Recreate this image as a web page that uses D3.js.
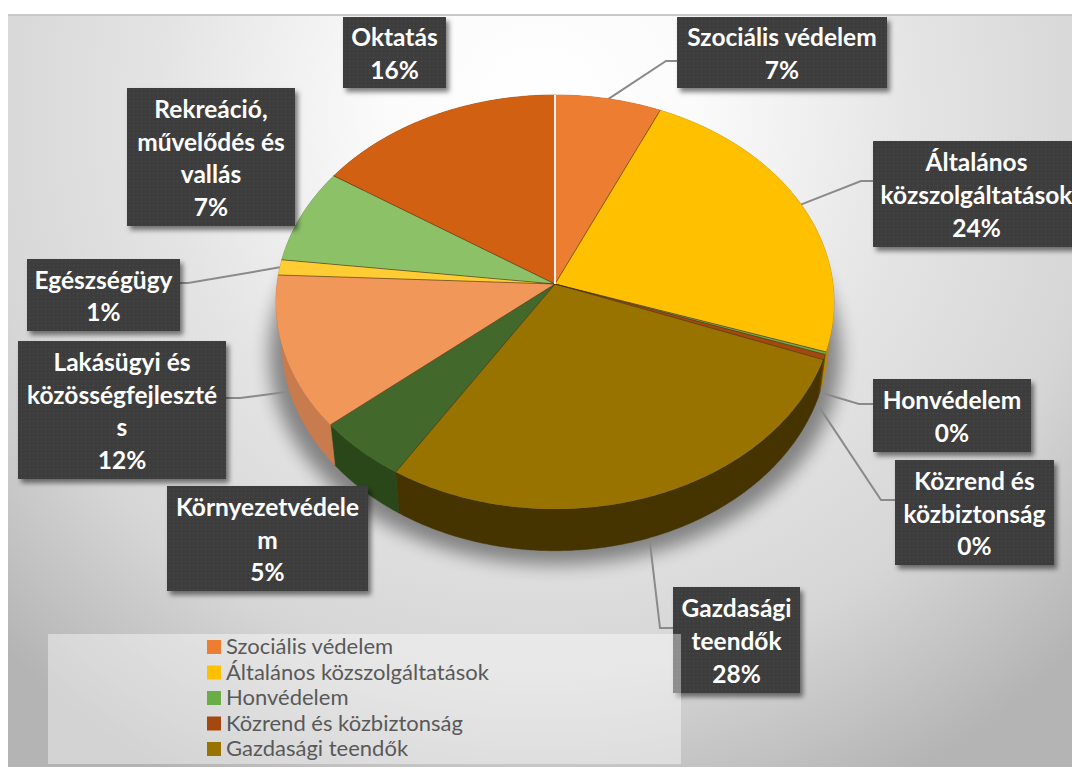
<!DOCTYPE html>
<html><head><meta charset="utf-8">
<script src="https://cdn.jsdelivr.net/npm/d3@7/dist/d3.min.js"></script>
<style>html,body{margin:0;background:#fff;overflow:hidden}svg{display:block}</style>
</head><body><svg id="c" width="1072" height="769"></svg>
<script>
// ---- data ----
const categories = ["Szociális védelem","Általános közszolgáltatások","Honvédelem","Közrend és közbiztonság","Gazdasági teendők","Környezetvédelem","Lakásügyi és közösségfejlesztés","Egészségügy","Rekreáció, művelődés és vallás","Oktatás"];
const values = [6.7,23.5,0.2,0.4,28.1,4.9,11.9,1.2,7.4,15.7];
const labelLines = [["Szociális védelem"],["Általános","közszolgáltatások"],["Honvédelem"],["Közrend és","közbiztonság"],["Gazdasági","teendők"],["Környezetvédele","m"],["Lakásügyi és","közösségfejleszté","s"],["Egészségügy"],["Rekreáció,","művelődés és","vallás"],["Oktatás"]];
const legendShown = 5;

// ---- styles / layout ----
const topColors  = ["#ED7D31","#FFC000","#6AAD47","#A5480F","#997300","#43682B","#F1975A","#FFCD33","#8CC168","#D26012"];
const sideColors = ["#B85F24","#B88A00","#4A7A30","#74320A","#453400","#2A4719","#C87C4E","#B89020","#5F8A45","#8F4009"];
const boxes = [[677,17,210,71],[873,141,207,106],[873,379,158,73],[895,460,159,105],[673,587,127,106],[167,486,201,105],[18,341,208,138],[27,259,153,72],[127,88,168,138],[343,17,103,71]];
const leaders = [
 {i:0,r:1,d:0,via:[[666,61],[677,61]]},
 {i:1,r:.99,d:0,via:[[861,181],[873,181]]},
 {i:2,r:.98,d:1,via:[[859,404],[873,404]]},
 {i:3,r:.97,d:1,via:[[881,500],[895,500]]},
 {i:4,r:1,d:1,via:[[660,628],[673,628]]},
 {i:6,r:1,d:1,via:[[240,398],[226,398]]},
 {i:7,r:1,d:0,via:[[188,283],[180,283]]}
];
const apex=[555,284], R=278, T=205.5, P=0.087, DEPTH=38, SHRINK=0.98;

// ---- projection of the tilted pie plane ----
function proj(a,r=1){
  const X=Math.sin(a)*r, Y=-Math.cos(a)*r, s=1/(1-P*Y);
  return {x:apex[0]+R*X*s, y:apex[1]+T*Y*s, s};
}
const top3=(a,r=1)=>{const p=proj(a,r);return [p.x,p.y];};
const bot3=(a,r=1)=>{const p=proj(a,r);return [apex[0]+(p.x-apex[0])*SHRINK, p.y+DEPTH*p.s];};

const arcs=d3.pie().sort(null).value(d=>d).startAngle(0).endAngle(2*Math.PI)(values);
const samples=(a,b)=>{const n=Math.max(2,Math.ceil((b-a)/0.01));return d3.range(n+1).map(k=>a+(b-a)*k/n);};
const line=d3.line();
const svg=d3.select("#c");
const defs=svg.append("defs");

const bg=defs.append("radialGradient").attr("id","bg").attr("gradientUnits","userSpaceOnUse")
 .attr("cx",540).attr("cy",110).attr("r",760);
[[0,"#ffffff"],[.2,"#fbfbfb"],[.5,"#e4e4e4"],[.75,"#d6d6d6"],[1,"#b4b4b4"]].forEach(([o,c])=>bg.append("stop").attr("offset",o).attr("stop-color",c));
const sh=defs.append("filter").attr("id","blur").attr("x","-20%").attr("y","-20%").attr("width","140%").attr("height","140%");
sh.append("feGaussianBlur").attr("stdDeviation",9);
const ds=defs.append("filter").attr("id","boxsh").attr("x","-10%").attr("y","-10%").attr("width","125%").attr("height","125%");
ds.append("feDropShadow").attr("dx",3).attr("dy",4).attr("stdDeviation",2.5).attr("flood-color","#000").attr("flood-opacity",.5);
const pat=defs.append("pattern").attr("id","dots").attr("patternUnits","userSpaceOnUse").attr("width",4).attr("height",4);
pat.append("rect").attr("width",4).attr("height",4).attr("fill","#3d3d3d");
pat.append("rect").attr("x",1).attr("y",1).attr("width",1).attr("height",1).attr("fill","#4d4d4d");

// background
svg.append("rect").attr("x",8).attr("y",15).attr("width",1064).attr("height",752).attr("fill","url(#bg)");
svg.append("rect").attr("x",8).attr("y",14).attr("width",1064).attr("height",2).attr("fill","#c9c9c9");

// shadow under the pie
const full=samples(0,2*Math.PI);
svg.append("path").attr("d",line(full.map(a=>{const b=bot3(a);return [apex[0]+(b[0]-apex[0])*1.045,b[1]+14];}))+"Z")
 .attr("fill","#000").attr("opacity",.42).attr("filter","url(#blur)");

// leaders
svg.append("g").selectAll("path").data(leaders).join("path")
 .attr("d",l=>{const a=(arcs[l.i].startAngle+arcs[l.i].endAngle)/2;const s=l.d?bot3(a,l.r):top3(a,l.r);return line([s,...l.via]);})
 .attr("fill","none").attr("stroke","#8a8a8a").attr("stroke-width",2);

// pie sides
svg.append("g").selectAll("path").data(arcs).join("path")
 .attr("d",d=>{const s=samples(d.startAngle,d.endAngle);return line([...s.map(a=>top3(a)),...s.slice().reverse().map(a=>bot3(a))])+"Z";})
 .attr("fill",(d,i)=>sideColors[i]).attr("stroke",(d,i)=>sideColors[i]).attr("stroke-width",.5);
// pie tops
svg.append("g").selectAll("path").data(arcs).join("path")
 .attr("d",d=>line([apex,...samples(d.startAngle,d.endAngle).map(a=>top3(a))])+"Z")
 .attr("fill",(d,i)=>topColors[i]);
// radial edges between slices
svg.append("g").selectAll("path").data(arcs.slice(1)).join("path")
 .attr("d",d=>line([apex,top3(d.startAngle)]))
 .attr("fill","none").attr("stroke","#4a2c08").attr("stroke-opacity",.6).attr("stroke-width",1);
// light seam at the start angle
svg.append("path").attr("d",line([apex,top3(0)])).attr("stroke","#f4f0ea").attr("stroke-width",2).attr("fill","none");

// label boxes
const lab=svg.append("g").selectAll("g").data(categories).join("g");
lab.append("rect").attr("x",(d,i)=>boxes[i][0]).attr("y",(d,i)=>boxes[i][1]).attr("width",(d,i)=>boxes[i][2]).attr("height",(d,i)=>boxes[i][3])
 .attr("fill","url(#dots)").attr("filter","url(#boxsh)");
const LH=32.8;
lab.each(function(d,i){
  const lines=[...labelLines[i],Math.round(values[i])+"%"];
  const cx=boxes[i][0]+boxes[i][2]/2, cy=boxes[i][1]+boxes[i][3]/2;
  d3.select(this).selectAll("text").data(lines).join("text")
   .attr("x",cx).attr("y",(t,k)=>cy+(k-(lines.length-1)/2)*LH+10)
   .attr("text-anchor","middle").attr("fill","#fff")
   .attr("font-family","Lato, 'Open Sans', sans-serif").attr("font-weight",700).attr("font-size",24.5)
   .text(t=>t);
});

// legend
svg.append("rect").attr("x",48).attr("y",634).attr("width",633).attr("height",130).attr("fill","#fff").attr("opacity",.42);
const rowY=d3.scalePoint().domain(categories.slice(0,legendShown)).range([647,749]);
const leg=svg.append("g").selectAll("g").data(categories.slice(0,legendShown)).join("g");
leg.append("rect").attr("x",207).attr("y",d=>rowY(d)-7).attr("width",14).attr("height",14).attr("fill",(d,i)=>topColors[i]);
leg.append("text").attr("x",226).attr("y",d=>rowY(d)+7).attr("fill","#595959")
 .attr("font-family","Lato, 'Open Sans', sans-serif").attr("font-size",22).text(d=>d);
</script></body></html>
